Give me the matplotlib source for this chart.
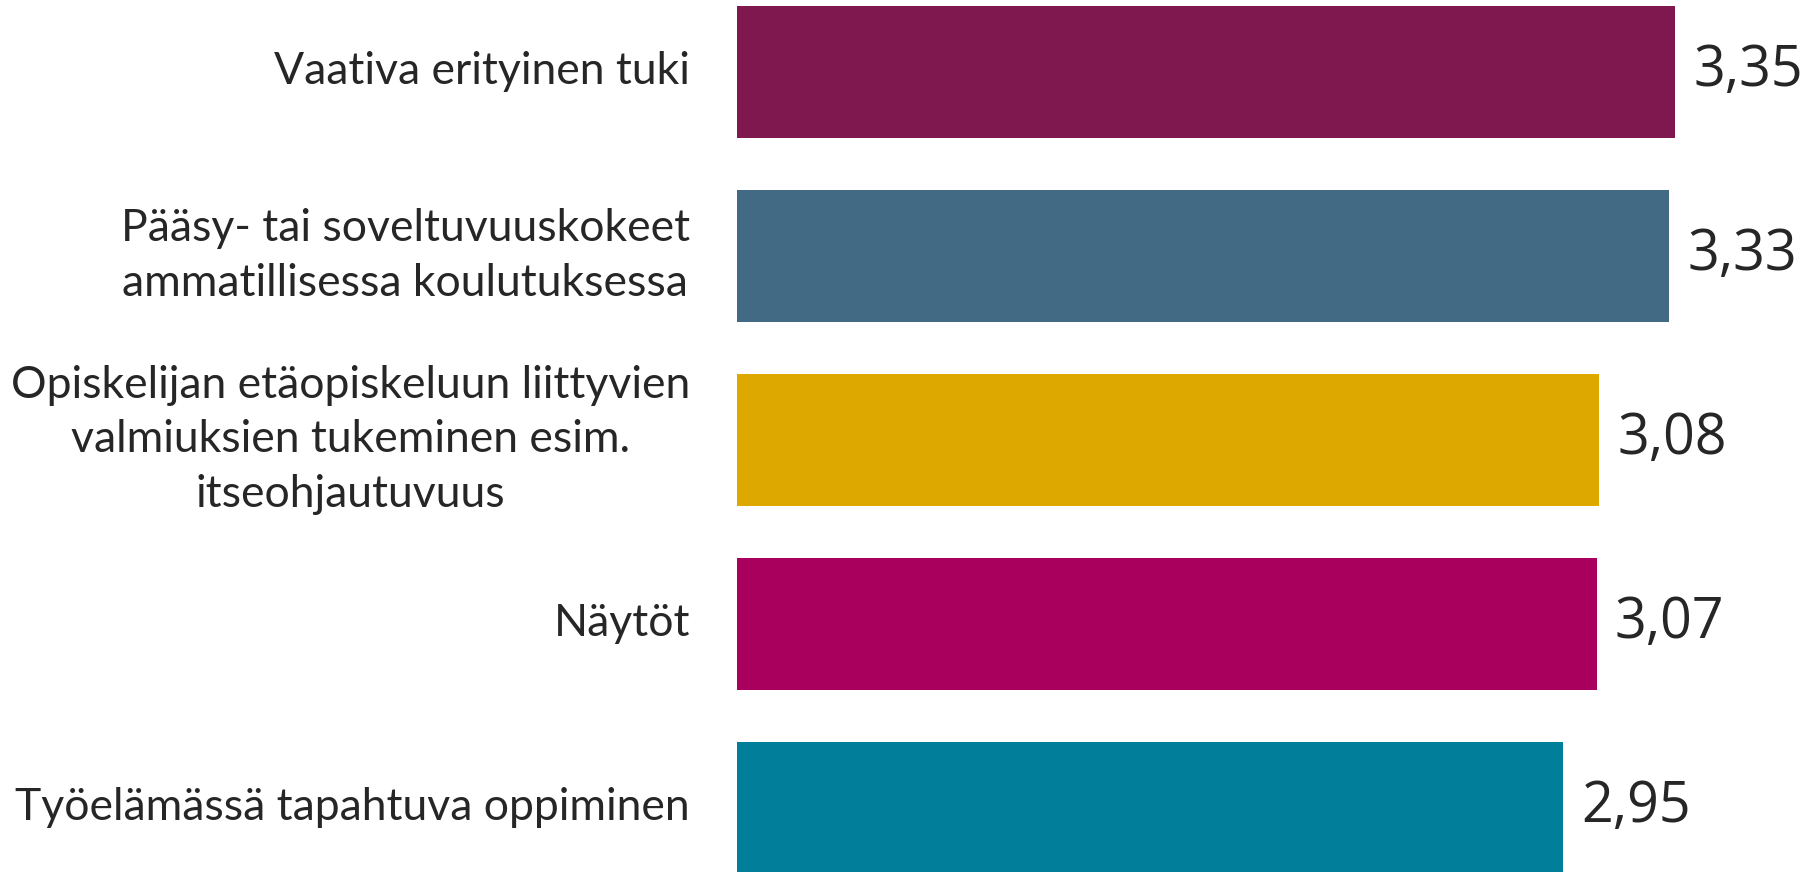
import matplotlib
matplotlib.use("Agg")
import matplotlib.pyplot as plt

categories = [
    'Vaativa erityinen tuki',
    'Pääsy- tai soveltuvuuskokeet\nammatillisessa koulutuksessa',
    'Opiskelijan etäopiskeluun liittyvien\nvalmiuksien tukeminen esim.\nitseohjautuvuus',
    'Näytöt',
    'Työelämässä tapahtuva oppiminen',
]
values = [3.35, 3.33, 3.08, 3.07, 2.95]
colors = ['#7f184f', '#436a84', '#dda800', '#a9005d', '#007e9a']

fig = plt.figure(figsize=(18.08, 8.72), dpi=100)
ax = fig.add_axes([737 / 1808, 0, 1 - 737 / 1808, 1])

ypos = list(range(len(values)))
ax.barh(ypos, values, height=0.717, color=colors)

ax.set_xlim(0, 1071 / 280)
ax.set_ylim(4.348, -0.391)
ax.axis('off')

for y, v, lab in zip(ypos, values, categories):
    ax.text(v + 18 / 280, y, f'{v:.2f}'.replace('.', ','), ha='left', va='center',
            fontsize=40, color='#262626', family=['Open Sans', 'DejaVu Sans'])
    ax.text(-47 / 280, y, lab, ha='right', va='center', multialignment='center',
            fontsize=32, color='#262626', linespacing=1.42,
            family=['Lato', 'DejaVu Sans'])

fig.savefig('out.png', dpi=100)
